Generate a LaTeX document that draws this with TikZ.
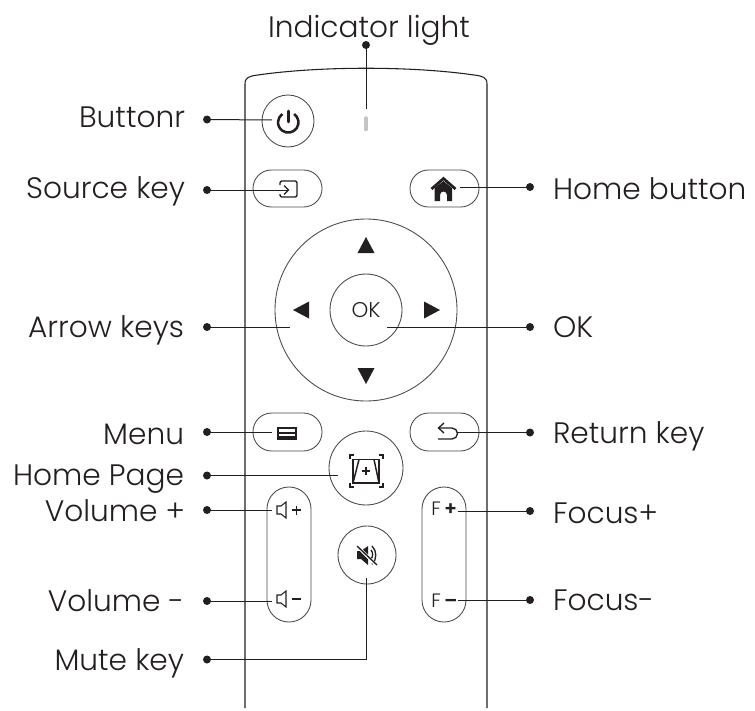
\documentclass[tikz,border=0pt]{standalone}
\usepackage{fontspec}
\setmainfont{Poppins}[UprightFont=* Light, BoldFont=* SemiBold]
\usetikzlibrary{calc, positioning, arrows.meta}
\definecolor{ink}{HTML}{231f20}
\definecolor{edge}{HTML}{4a4a4a}
\definecolor{led}{HTML}{c4c4c4}
\tikzset{
	lab/.style={font=\fontsize{22.2}{24}\selectfont, text=ink, inner sep=0pt, outer sep=0pt},
	labl/.style={lab, anchor=base east},
	labr/.style={lab, anchor=base west},
	dotmark/.style={circle, fill=ink, inner sep=0pt, minimum size=6pt},
	leader/.style={draw=ink, line width=0.75pt},
	keyline/.style={draw=edge, line width=0.65pt},
	icon/.style={draw=ink, line width=0.8pt},
}
\begin{document}
\begin{tikzpicture}[x=0.75pt, y=-0.75pt]
	\useasboundingbox (0, 0) rectangle (755, 710);

	% body of the remote
	\draw[draw=ink, line width=0.8pt] (245, 708) -- (245, 84) .. controls (245, 77) and (250, 76) .. (258, 75) .. controls (320, 66) and (412, 66) .. (474, 75) .. controls (482, 76) and (487, 77) .. (487, 84) -- (487, 708);

	% round keys
	\node[keyline, circle, minimum size=39pt, inner sep=0pt] (power) at (288, 121) {};
	\node[keyline, circle, minimum size=136.5pt, inner sep=0pt] (wheel) at (366, 310) {};
	\node[keyline, circle, minimum size=54pt, inner sep=0pt, font=\fontsize{16}{18}\selectfont, text=ink] (ok) at (366, 310) {OK};
	\node[keyline, circle, minimum size=55.5pt, inner sep=0pt] (keystone) at (366, 468) {};
	\node[keyline, circle, minimum size=43.5pt, inner sep=0pt] (mute) at (367, 555) {};

	% pill keys
	\draw[keyline, rounded corners=13.8pt] (253, 170) rectangle (322, 207);
	\draw[keyline, rounded corners=13.8pt] (410, 170) rectangle (479, 207);
	\draw[keyline, rounded corners=14pt] (253, 413) rectangle (322, 451);
	\draw[keyline, rounded corners=14pt] (410, 413) rectangle (479, 451);
	\draw[keyline, rounded corners=16.4pt] (267, 487) rectangle (311, 622);
	\draw[keyline, rounded corners=16.4pt] (422, 487) rectangle (466, 622);

	% indicator
	\draw[draw=led, line width=2.6pt, line cap=round] (366, 118) -- (366, 129.5);

	% power icon
	\draw[icon, line width=1.9pt] (294.1, 114) arc (-55:235:10.2);
	\draw[icon, line width=1.9pt, line cap=round] (288.3, 111) -- (288.3, 122);

	% source icon
	\draw[icon, line width=1pt, rounded corners=1.5pt] (280, 185) -- (280, 181) -- (297, 181) -- (297, 197) -- (280, 197) -- (280, 194);
	\draw[icon, line width=1pt] (284, 185.5) -- (288.5, 190) -- (284, 194.5);

	% home icon
	\fill[ink] (434.5, 188) -- (443.5, 181) -- (452, 188) -- (452, 201) -- (447, 201) -- (447, 195) arc (0:-180:3.5) -- (440, 201) -- (434.5, 201) -- cycle;
	\draw[icon, line width=2pt] (431.5, 189) -- (443.5, 178.5) -- (455.5, 189);

	% arrows on the wheel
	\foreach \ax/\ay/\bx/\by/\cx/\cy in {366/237/357.5/253/374.5/253, 366/384/357.5/368/374.5/368, 293/310/309/301.5/309/318.5, 440/310/424/301.5/424/318.5}
		\fill[ink] (\ax, \ay) -- (\bx, \by) -- (\cx, \cy) -- cycle;

	% menu icon
	\draw[icon, line width=1pt] (278, 428) rectangle (296, 439);
	\fill[ink] (278, 431.5) rectangle (296, 434);
	\fill[ink] (278, 435.5) rectangle (296, 439);

	% return icon
	\draw[icon, line width=1pt] (438, 428) -- (452, 428) arc (-90:90:5.5) -- (438, 439);
	\draw[icon, line width=1pt] (444, 423) -- (438.5, 428) -- (444, 433);

	% keystone icon
	\draw[icon, line width=1.1pt] (353, 459.5) rectangle (379, 483);
	\draw[icon, line width=1.1pt] (353, 483) -- (359, 459.5) (379, 483) -- (374, 459.5);
	\draw[icon, line width=0.8pt] (362, 471) -- (370, 471) (366, 467) -- (366, 475);
	\foreach \cx/\cy/\sx/\sy in {350/455/1/1, 383/455/-1/1, 350/487/1/-1, 383/487/-1/-1}
		\draw[icon] (\cx+4*\sx, \cy) -- (\cx, \cy) -- (\cx, \cy+4*\sy);

	% volume icons
	\foreach \vy in {510, 599}
		\draw[icon] (277, \vy-4) -- (281, \vy-4) -- (286, \vy-8) -- (286, \vy+8) -- (281, \vy+4) -- (277, \vy+4) -- cycle;
	\draw[icon, line width=1pt] (292, 510) -- (301, 510) (296.5, 505.5) -- (296.5, 514.5);
	\draw[icon, line width=1pt] (292, 599) -- (301, 599);

	% focus keys
	\node[text=ink, inner sep=0pt, anchor=base west, font=\fontsize{14.5}{16}\selectfont] (fplus) at (431, 515) {F\,\textbf{+}};
	\node[text=ink, inner sep=0pt, anchor=base west, font=\fontsize{14.5}{16}\selectfont] (fminus) at (431, 607) {F\,\textbf{–}};

	% mute icon
	\fill[ink] (357, 551) -- (361, 551) -- (368, 546) -- (368, 565) -- (361, 559) -- (357, 559) -- cycle;
	\draw[icon, line width=1pt] (371, 550) arc (-40:40:7);
	\draw[icon, line width=1pt] (372, 546) arc (-45:45:13);
	\draw[draw=white, line width=2.2pt] (357, 546) -- (377, 566);
	\draw[icon, line width=1pt] (357, 546) -- (377, 565);

	% label dots
	\node[dotmark] (dlight) at (366, 45) {};
	\node[dotmark] (dpower) at (207, 119.5) {};
	\node[dotmark] (dsource) at (207, 190) {};
	\node[dotmark] (dhome) at (530, 187) {};
	\node[dotmark] (darrow) at (207, 327) {};
	\node[dotmark] (dok) at (530, 327) {};
	\node[dotmark] (dmenu) at (207, 432) {};
	\node[dotmark] (dreturn) at (530, 432.5) {};
	\node[dotmark] (dpage) at (207, 475.5) {};
	\node[dotmark] (dvolup) at (207, 510) {};
	\node[dotmark] (dfocup) at (530, 511) {};
	\node[dotmark] (dvoldn) at (207, 601) {};
	\node[dotmark] (dfocdn) at (530, 600) {};
	\node[dotmark] (dmute) at (207, 659.5) {};

	% labels
	\node[lab, anchor=base] (light) at (369, 38) {Indicator light};
	\node[labl] (lpower) at (185, 127) {Buttonr};
	\node[labl] (lsource) at (185, 198) {Source key};
	\node[labr] (lhome) at (553, 199) {Home button};
	\node[labl] (larrow) at (184, 337) {Arrow keys};
	\node[labr] (lok) at (553, 337) {OK};
	\node[labl] (lmenu) at (184, 444) {Menu};
	\node[labr] (lreturn) at (553, 443) {Return key};
	\node[labl] (lpage) at (184, 485) {Home Page};
	\node[labl] (lvolup) at (185, 521) {Volume +};
	\node[labr] (lfocup) at (553, 523) {Focus+};
	\node[labl] (lvoldn) at (184, 611) {Volume -};
	\node[labr] (lfocdn) at (553, 610) {Focus-};
	\node[labl] (lmute) at (184, 670) {Mute key};

	% free ends of the leaders
	\coordinate (epower) at (272, 120);
	\coordinate (elight) at (366, 109);
	\coordinate (esource) at (288, 190);
	\coordinate (ehome) at (460, 187);
	\coordinate (earrow) at (290, 327);
	\coordinate (eok) at (387, 327);
	\coordinate (emenu) at (272, 432);
	\coordinate (ereturn) at (457, 432.5);
	\coordinate (epage) at (338, 475.5);
	\coordinate (evolup) at (272, 510);
	\coordinate (efocup) at (458, 511);
	\coordinate (evoldn) at (272, 601);
	\coordinate (efocdn) at (458, 600);
	\coordinate (emute) at (366, 578);

	\foreach \da/\eb in {dlight/elight, dpower/epower, dsource/esource, dhome/ehome, darrow/earrow, dok/eok, dmenu/emenu, dreturn/ereturn, dpage/epage, dvolup/evolup, dfocup/efocup, dvoldn/evoldn, dfocdn/efocdn}
		\draw[leader] (\da.center) -- (\eb);
	\draw[leader] (dmute.center) -| (emute);
\end{tikzpicture}
\end{document}
